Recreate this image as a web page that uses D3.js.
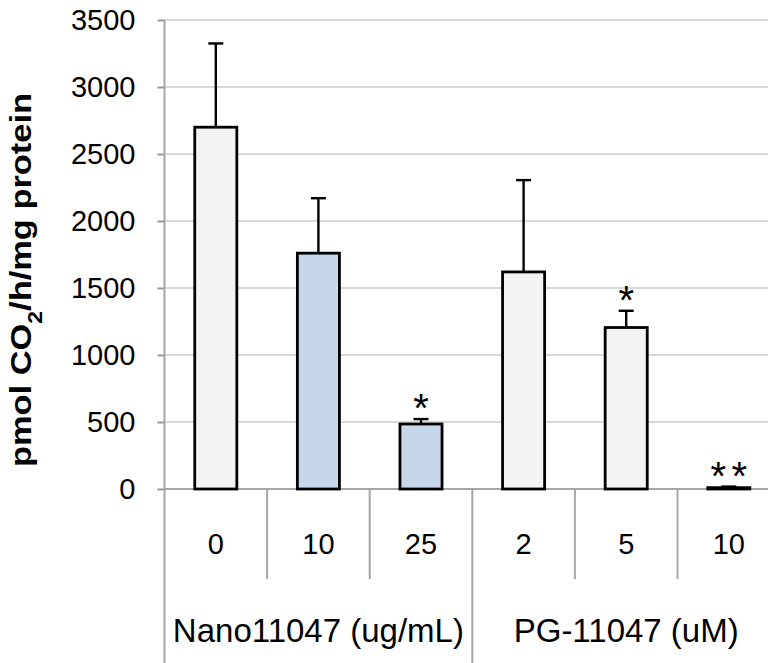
<!DOCTYPE html>
<html><head><meta charset="utf-8">
<script src="https://cdn.jsdelivr.net/npm/d3@7"></script>
<style>
html,body{margin:0;padding:0;background:#fff;}
text{font-family:"Liberation Sans",Arial,sans-serif;fill:#000;}
</style></head>
<body><svg id="chart" width="768" height="663"></svg>
<script>
const categories = ["0","10","25","2","5","10"];
const groupOf = [0,0,0,1,1,1];
const groups = ["Nano11047 (ug/mL)","PG-11047 (uM)"];
const treatment = ["control","nano","nano","pg","pg","pg"];
const values = [2700,1760,485,1620,1205,10];
const errors = [625,410,37,685,125,8];
const signif = ["","","*","","*","**"];
const yTicks = [0,500,1000,1500,2000,2500,3000,3500];

const svg = d3.select("#chart");
const x0 = 164.5, step = 102.6;
const x = d3.scaleBand().domain(d3.range(categories.length))
  .range([x0, x0 + step*categories.length]).paddingInner(0.59).paddingOuter(0.295);
const y = d3.scaleLinear().domain([0,3500]).range([489,20]);
const color = d3.scaleOrdinal().domain(["control","nano","pg"]).range(["#f3f3f3","#c6d7ea","#f3f3f3"]);

// gridlines
svg.append("g").selectAll("line").data(yTicks.filter(d=>d>0)).join("line")
  .attr("x1",x0).attr("x2",768).attr("y1",d=>y(d)).attr("y2",d=>y(d))
  .attr("stroke","#d9d9d9").attr("stroke-width",2);

// y axis
const yAxis = d3.axisLeft(y).tickValues(yTicks).tickSize(7).tickPadding(22).tickFormat(d3.format("d"));
const gy = svg.append("g").attr("transform",`translate(${x0},0)`).call(yAxis);
gy.select(".domain").remove();
gy.selectAll(".tick line").attr("stroke","#999").attr("stroke-width",2);
gy.selectAll(".tick text").attr("font-size",29).attr("font-family","Liberation Sans, Arial, sans-serif").attr("fill","#000");
svg.append("line").attr("x1",x0).attr("x2",x0).attr("y1",y(3500)).attr("y2",663)
  .attr("stroke","#a6a6a6").attr("stroke-width",2);

// x axis line
svg.append("line").attr("x1",x0).attr("x2",768).attr("y1",y(0)).attr("y2",y(0))
  .attr("stroke","#a6a6a6").attr("stroke-width",2);

// category dividers
const bounds = d3.range(1,categories.length);
svg.append("g").selectAll("line").data(bounds).join("line")
  .attr("x1",i=>x0+step*i).attr("x2",i=>x0+step*i)
  .attr("y1",y(0)).attr("y2",i=> groupOf[i]!==groupOf[i-1] ? 663 : 579)
  .attr("stroke","#a6a6a6").attr("stroke-width",2);

// category labels
svg.append("g").selectAll("text").data(categories).join("text")
  .attr("x",(d,i)=>x(i)+x.bandwidth()/2).attr("y",554)
  .attr("text-anchor","middle").attr("font-size",29).text(d=>d);

// group labels
groups.forEach((g,gi)=>{
  const idx = d3.range(categories.length).filter(i=>groupOf[i]===gi);
  const cx = x0 + step*(idx[0] + idx.length/2);
  svg.append("text").attr("x",cx).attr("y",642).attr("text-anchor","middle")
    .attr("font-size",33).text(g);
});

// error bars
const eb = svg.append("g").attr("stroke","#000").attr("stroke-width",2.4);
values.forEach((v,i)=>{
  const cx = x(i)+x.bandwidth()/2;
  eb.append("line").attr("x1",cx).attr("x2",cx).attr("y1",y(v)).attr("y2",y(v+errors[i]));
  eb.append("line").attr("x1",cx-7.5).attr("x2",cx+7.5).attr("y1",y(v+errors[i])).attr("y2",y(v+errors[i]));
});

// bars
svg.append("g").selectAll("rect").data(values).join("rect")
  .attr("x",(d,i)=>x(i)).attr("width",x.bandwidth())
  .attr("y",d=>y(d)).attr("height",d=>y(0)-y(d))
  .attr("fill",(d,i)=>color(treatment[i])).attr("stroke","#000").attr("stroke-width",2.8);

// significance marks
const sg = svg.append("g");
signif.forEach((s,i)=>{
  const chars = s.split("");
  const cx = x(i)+x.bandwidth()/2;
  const cy = y(values[i]+errors[i]) - 20;
  chars.forEach((c,k)=>{
    sg.append("text").attr("x", cx + (k-(chars.length-1)/2)*21)
      .attr("y", cy + 0.58*40).attr("text-anchor","middle").attr("font-size",40).text(c);
  });
});

// y label
svg.append("text").attr("transform","translate(31,280) rotate(-90)")
  .attr("text-anchor","middle").attr("font-size",30).attr("font-weight","bold")
  .attr("textLength",374).attr("lengthAdjust","spacingAndGlyphs")
  .html('pmol CO<tspan baseline-shift="sub" font-size="20">2</tspan>/h/mg protein');
</script></body></html>
